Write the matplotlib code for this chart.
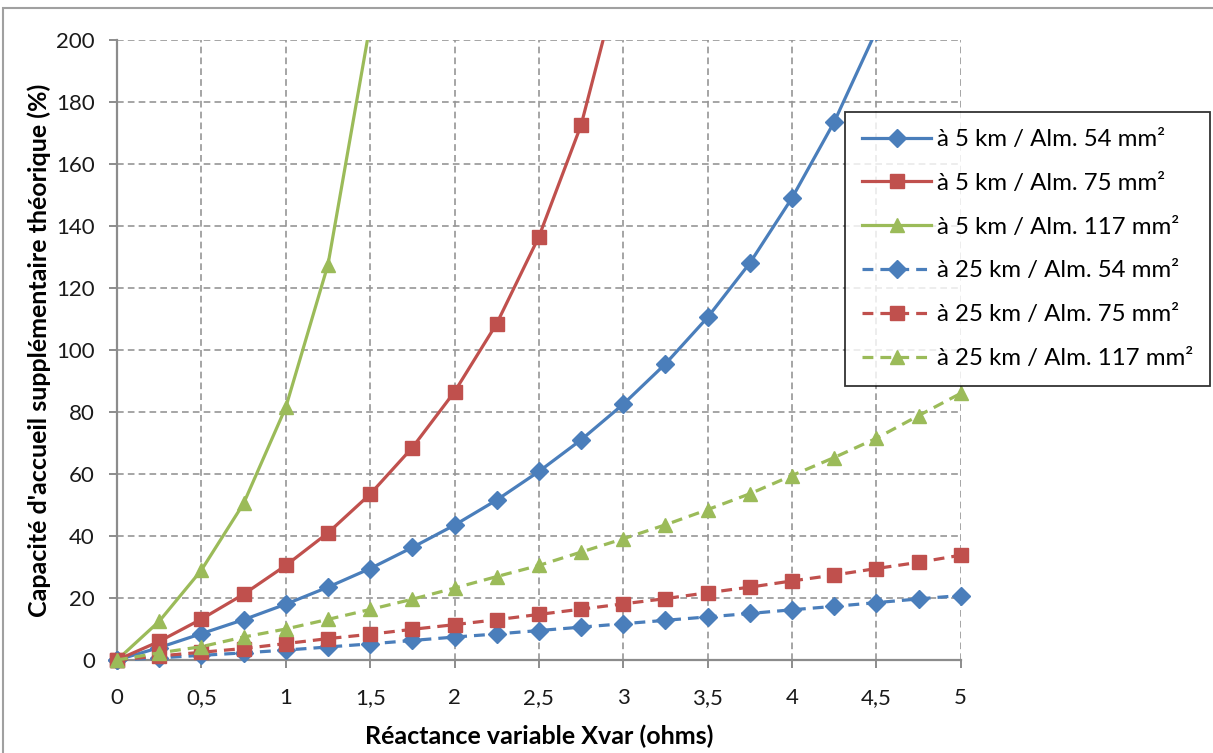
import numpy as np
import matplotlib
matplotlib.use("Agg")
import matplotlib.pyplot as plt
from matplotlib.patches import Rectangle

plt.rcParams['font.family'] = ['Lato', 'DejaVu Sans']

# data
x = [0, 0.25, 0.5, 0.75, 1, 1.25, 1.5, 1.75, 2, 2.25, 2.5, 2.75, 3,
     3.25, 3.5, 3.75, 4, 4.25, 4.5, 4.75, 5]

km5_54 = [0, 4, 8.5, 13, 18, 23.5, 29.5, 36.3, 43.5, 51.6, 60.8, 71, 82.5,
          95.5, 110.5, 128, 149, 173.5, 203, 237, 277]
km5_75 = [0, 6, 13.2, 21.2, 30.5, 41, 53.5, 68.5, 86.5, 108.5, 136.5, 172.5, 225]
km5_117 = [0, 12.5, 29, 50.5, 81.5, 127.5, 205]
km25_54 = [0, 0.7, 1.5, 2.3, 3.2, 4.2, 5.2, 6.3, 7.4, 8.4, 9.5, 10.6, 11.7,
           12.8, 13.9, 15.0, 16.2, 17.3, 18.5, 19.7, 20.8]
km25_75 = [0, 1.3, 2.5, 3.7, 5.3, 6.9, 8.3, 9.9, 11.4, 13, 14.7, 16.4, 18.1,
           19.8, 21.7, 23.5, 25.5, 27.4, 29.5, 31.5, 33.8]
km25_117 = [0, 2.3, 4.3, 7.4, 10, 13.1, 16.3, 19.6, 23.2, 26.9, 30.5, 34.8, 39.1,
            43.6, 48.5, 53.6, 59.5, 65.3, 71.5, 78.8, 86]

labels = ["à 5 km / Alm. 54 mm²", "à 5 km / Alm. 75 mm²", "à 5 km / Alm. 117 mm²",
          "à 25 km / Alm. 54 mm²", "à 25 km / Alm. 75 mm²", "à 25 km / Alm. 117 mm²"]

blue = "#4A7EBB"
red = "#C0504D"
green = "#9BBB59"
dash = (0, (3.4, 2.2))

series = [
    (km5_54, blue, "D", 9, "-"),
    (km5_75, red, "s", 9.5, "-"),
    (km5_117, green, "^", 10, "-"),
    (km25_54, blue, "D", 9, dash),
    (km25_75, red, "s", 9.5, dash),
    (km25_117, green, "^", 10, dash),
]

fig = plt.figure(figsize=(12.13, 7.53), dpi=100)
ax = fig.add_axes([0.0965, 0.1235, 0.6955, 0.8235])

# clip region: lets markers on the axes show, but cuts the lines at 200
clip = Rectangle((-0.03, -0.03), 1.06, 1.03, transform=ax.transAxes,
                 facecolor="none", edgecolor="none")
ax.add_patch(clip)

for (vals, col, mk, ms, ls), lab in zip(series, labels):
    ln, = ax.plot(x[:len(vals)], vals, color=col, marker=mk, markersize=ms,
                  linestyle=ls, linewidth=2.3, label=lab, zorder=3)
    ln.set_clip_path(clip)

ax.set_xlim(0, 5)
ax.set_ylim(0, 200)
ax.set_xticks(np.arange(0, 5.01, 0.5))
ax.set_xticklabels(["0", "0,5", "1", "1,5", "2", "2,5", "3", "3,5", "4", "4,5", "5"])
ax.set_yticks(np.arange(0, 201, 20))

ax.grid(True, color="#969696", linestyle=(0, (4, 2.5)), linewidth=1.2)
ax.set_axisbelow(True)
for s in ["top", "right"]:
    ax.spines[s].set_visible(False)
for s in ["left", "bottom"]:
    ax.spines[s].set_color("#8c8c8c")
    ax.spines[s].set_linewidth(1.6)

ax.tick_params(axis="both", colors="#8c8c8c", labelcolor="#1a1a1a",
               labelsize=16, length=6, width=1.4)
ax.tick_params(axis="x", pad=14)
ax.tick_params(axis="y", pad=10)

ax.set_xlabel("Réactance variable Xvar (ohms)", fontsize=18, fontweight="bold",
              labelpad=12)
ax.set_ylabel("Capacité d'accueil supplémentaire théorique (%)", fontsize=18,
              fontweight="bold", labelpad=4)

leg = fig.legend(loc="upper left", bbox_to_anchor=(0.6965, 0.851), fontsize=17.3,
                 frameon=True, fancybox=False, edgecolor="black",
                 handlelength=2.9, labelspacing=0.95, borderpad=0.7,
                 handletextpad=0.25, borderaxespad=0)
leg.get_frame().set_linewidth(1.3)

# outer chart frame
fig.patches.append(Rectangle((0.0025, -0.02), 1.05, 1.009, transform=fig.transFigure,
                             fill=False, edgecolor="#a0a0a0", linewidth=1.5))

fig.savefig("out.png", dpi=100)
